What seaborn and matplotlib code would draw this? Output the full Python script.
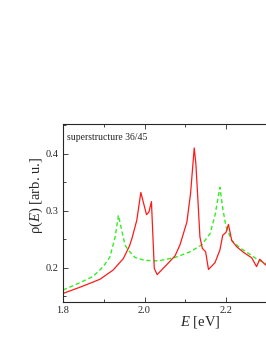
import pandas as pd
import numpy as np
import matplotlib
matplotlib.use("Agg")
import matplotlib.pyplot as plt
import seaborn as sns
from matplotlib.ticker import MultipleLocator

# red solid curve (E, rho)
red_E = [1.800, 1.842, 1.874, 1.891, 1.923, 1.948, 1.963, 1.969, 1.981, 1.991,
         2.005, 2.011, 2.017, 2.024, 2.031, 2.054, 2.075, 2.087, 2.104, 2.113,
         2.122, 2.126, 2.132, 2.136, 2.142, 2.150, 2.157, 2.173, 2.185, 2.192,
         2.200, 2.206, 2.214, 2.226, 2.243, 2.263, 2.275, 2.283, 2.297, 2.312]
red_rho = [0.155, 0.166, 0.175, 0.180, 0.196, 0.216, 0.238, 0.251, 0.283, 0.332,
           0.293, 0.298, 0.316, 0.199, 0.188, 0.205, 0.221, 0.240, 0.280, 0.330,
           0.410, 0.383, 0.307, 0.254, 0.234, 0.228, 0.197, 0.209, 0.231, 0.257,
           0.262, 0.276, 0.248, 0.237, 0.227, 0.2175, 0.202, 0.215, 0.205, 0.203]

# green dashed curve (E, rho)
green_E = [1.800, 1.842, 1.874, 1.899, 1.915, 1.928, 1.936, 1.944, 1.952, 1.960,
           1.977, 2.000, 2.034, 2.075, 2.112, 2.140, 2.161, 2.173, 2.185, 2.192,
           2.200, 2.214, 2.234, 2.259, 2.279, 2.297, 2.312]
green_rho = [0.161, 0.174, 0.185, 0.202, 0.219, 0.254, 0.292, 0.266, 0.240, 0.231,
             0.218, 0.213, 0.212, 0.218, 0.228, 0.240, 0.260, 0.292, 0.341, 0.304,
             0.272, 0.248, 0.235, 0.2235, 0.2135, 0.208, 0.205]

sns.set_style("ticks")
plt.rcParams['font.family'] = ['Liberation Serif', 'DejaVu Serif']
plt.rcParams['mathtext.fontset'] = 'custom'
plt.rcParams['mathtext.rm'] = 'Liberation Serif'
plt.rcParams['mathtext.it'] = 'Liberation Serif:italic'

red_df = pd.DataFrame({'E': red_E, 'rho': red_rho})
green_df = pd.DataFrame({'E': green_E, 'rho': green_rho})

fig = plt.figure(figsize=(2.66, 3.44), dpi=100)
# x axis runs past the right edge of the figure (right spine cut off)
ax = fig.add_axes([63/266, 42/344, 0.512*407.5/266, 178/344])

sns.lineplot(data=green_df, x='E', y='rho', ax=ax, color='#33ee22',
             linestyle=(0, (3, 2)), linewidth=1.0, sort=False)
sns.lineplot(data=red_df, x='E', y='rho', ax=ax, color='#ff1a1a',
             linewidth=0.9, sort=False)

ax.set_xlim(1.8, 2.312)
ax.set_ylim(0.14, 0.452)
ax.xaxis.set_major_locator(MultipleLocator(0.2))
ax.xaxis.set_minor_locator(MultipleLocator(0.1))
ax.yaxis.set_major_locator(MultipleLocator(0.1))
ax.yaxis.set_minor_locator(MultipleLocator(0.05))
ax.tick_params(which='both', direction='in', top=True, right=True,
               labelsize=7.5, width=0.6, pad=3)
ax.tick_params(which='major', length=3.5)
ax.tick_params(which='minor', length=2)
for s in ax.spines.values():
    s.set_linewidth(0.8)

ax.set_xlabel('$E$ [eV]', fontsize=10.5, labelpad=0)
ax.xaxis.set_label_coords(137.5/209, -0.065)
ax.set_ylabel('ρ($E$) [arb. u.]', fontsize=10.5)
ax.yaxis.set_label_coords(-0.085, 0.6)
ax.text(4/209, 0.95, 'superstructure 36/45', transform=ax.transAxes,
        fontsize=7, va='top', ha='left')

fig.savefig('out.png', dpi=100)
